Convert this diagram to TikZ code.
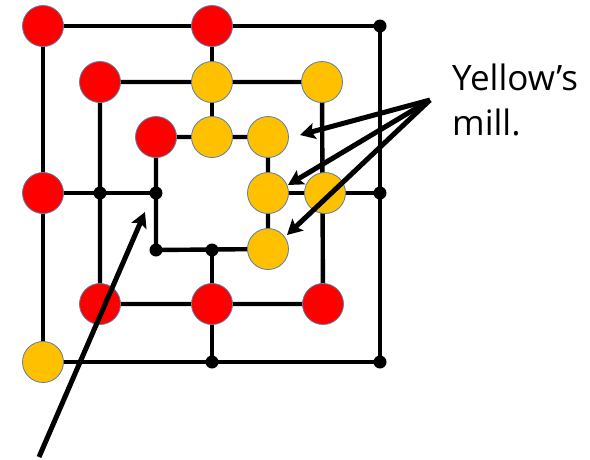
\documentclass[tikz,border=0pt]{standalone}
\usepackage{fontspec}
\usepackage{tikz}
\usepackage{xcolor}
\usetikzlibrary{arrows.meta,backgrounds}
\newfontfamily\labelfont{Open Sans}
\definecolor{pieceRed}{HTML}{FF0000}
\definecolor{pieceYellow}{HTML}{FFC000}
\definecolor{pieceRim}{HTML}{5B7FA6}

\begin{document}
\begin{tikzpicture}[
      x=1pt,y=-1pt,
      red/.style={circle,fill=pieceRed,draw=pieceRim,line width=0.8pt,minimum size=41pt,inner sep=0pt},
      yellow/.style={circle,fill=pieceYellow,draw=pieceRim,line width=0.8pt,minimum size=41pt,inner sep=0pt},
      dot/.style={circle,fill=black,minimum size=13pt,inner sep=0pt},
      board/.style={line width=4.4pt,line join=miter},
      arrow/.style={-{Stealth[length=15pt,width=16pt,inset=3pt]},line width=5pt},
      note/.style={align=left,inner sep=0pt,font=\labelfont\fontsize{35}{45}\selectfont}
    ]
    \useasboundingbox (0,0) rectangle (590,459);
    % outer square
    \node[red]    (o1) at (43,26)   {};
    \node[red]    (o2) at (212,26)  {};
    \node[dot]    (o3) at (380,26)  {};
    \node[dot]    (o4) at (380,193) {};
    \node[dot]    (o5) at (380,362) {};
    \node[dot]    (o6) at (212,362) {};
    \node[yellow] (o7) at (43,362)  {};
    \node[red]    (o8) at (43,193)  {};
    % middle square
    \node[red]    (m1) at (100,82)  {};
    \node[yellow] (m2) at (212,82)  {};
    \node[yellow] (m3) at (322,82)  {};
    \node[yellow] (m4) at (325,193) {};
    \node[red]    (m5) at (323,304) {};
    \node[red]    (m6) at (212,304) {};
    \node[red]    (m7) at (100,304) {};
    \node[dot]    (m8) at (100,193) {};
    % inner square
    \node[red]    (i1) at (156,137) {};
    \node[yellow] (i2) at (212,137) {};
    \node[yellow] (i3) at (268,137) {};
    \node[yellow] (i4) at (268,193) {};
    \node[yellow] (i5) at (268,249) {};
    \node[dot]    (i6) at (212,250) {};
    \node[dot]    (i7) at (156,250) {};
    \node[dot]    (i8) at (156,193) {};
    \begin{scope}[on background layer]
      \draw[board] (o1.center) -- (o3.center) -- (o5.center) -- (o7.center) -- cycle;
      \draw[board] (m1.center) -- (m3.center) -- (m5.center) -- (m7.center) -- cycle;
      \draw[board] (i1.center) -- (i3.center) -- (i5.center) -- (i7.center) -- cycle;
      \draw[board] (o2.center) -- (i2.center);
      \draw[board] (i6.center) -- (o6.center);
      \draw[board] (o8.center) -- (i8.center);
      \draw[board] (i4.center) -- (o4.center);
    \end{scope}
    % label and arrows
    \node[note,anchor=west] (mill) at (452,100) {Yellow’s\\mill.};
    \coordinate (src) at (430,100);
    \coordinate (t1) at (300,135);
    \coordinate (t2) at (288,185);
    \coordinate (t3) at (287,235);
    \draw[arrow] (src) -- (t1);
    \draw[arrow] (src) -- (t2);
    \draw[arrow] (src) -- (t3);
    \coordinate (tail) at (39,457);
    \coordinate (tip) at (145,212);
    \draw[arrow] (tail) -- (tip);
  \end{tikzpicture}
\end{document}
